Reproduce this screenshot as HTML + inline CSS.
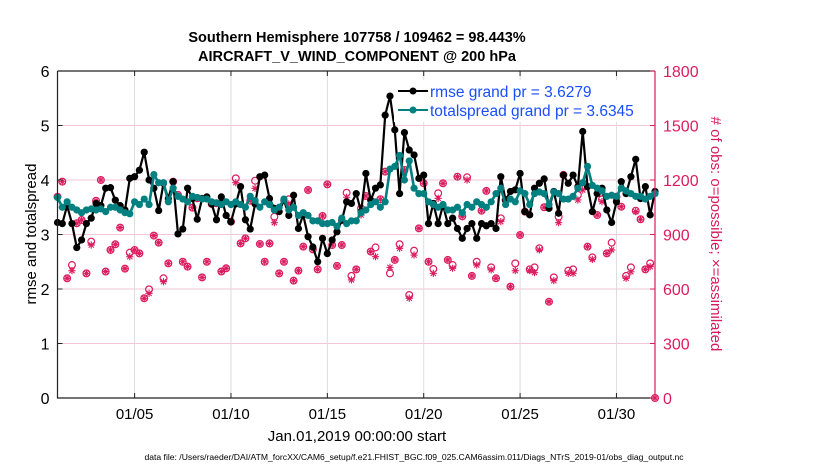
<!DOCTYPE html>
<html><head><meta charset="utf-8"><style>
body{margin:0;background:#fff;}
svg text{font-family:"Liberation Sans",Arial,sans-serif;}
</style></head><body>
<svg id="chart" width="830" height="470" xmlns="http://www.w3.org/2000/svg">
<rect x="0" y="0" width="830" height="470" fill="#fff"/>
<g id="grid"></g>
<g id="marks"></g>
<g id="axes"></g>
<text x="357" y="42" text-anchor="middle" font-size="14.5" font-weight="bold">Southern Hemisphere 107758 / 109462 = 98.443%</text>
<text x="357" y="61" text-anchor="middle" font-size="14.5" font-weight="bold">AIRCRAFT_V_WIND_COMPONENT @ 200 hPa</text>
<text transform="translate(36,234) rotate(-90)" text-anchor="middle" font-size="15">rmse and totalspread</text>
<text transform="translate(711,234) rotate(90)" text-anchor="middle" font-size="15" fill="#d81b5c"># of obs: o=possible; ×=assimilated</text>
<text x="357" y="441" text-anchor="middle" font-size="15">Jan.01,2019 00:00:00 start</text>
<text x="414" y="460" text-anchor="middle" font-size="8.6">data file: /Users/raeder/DAI/ATM_forcXX/CAM6_setup/f.e21.FHIST_BGC.f09_025.CAM6assim.011/Diags_NTrS_2019-01/obs_diag_output.nc</text>
<g>
<rect x="394" y="80" width="256" height="42" fill="#fff"/>
<line x1="398" y1="91" x2="428" y2="91" stroke="#000" stroke-width="2"/>
<circle cx="413" cy="91" r="3.5" fill="#000"/>
<text x="430" y="97" font-size="15.5" fill="#1a4dff">rmse grand pr = 3.6279</text>
<line x1="398" y1="110" x2="428" y2="110" stroke="#008080" stroke-width="2"/>
<circle cx="413" cy="110" r="3.5" fill="#008080"/>
<text x="430" y="116" font-size="15.5" fill="#1a4dff">totalspread grand pr = 3.6345</text>
</g>
</svg>
<script>
const rmse = [3.22,3.20,3.53,3.20,2.76,2.90,3.20,3.30,3.57,3.53,3.85,3.86,3.63,3.53,3.45,4.03,4.06,4.18,4.51,4.0,3.85,3.44,3.94,3.66,3.97,3.01,3.10,3.85,3.66,3.28,3.66,3.69,3.56,3.27,3.69,3.35,3.23,3.56,3.88,3.27,3.10,3.56,4.06,
4.09,3.66,3.48,3.42,3.63,3.35,3.72,3.11,3.36,2.96,2.77,2.50,2.93,2.65,2.90,3.05,3.26,3.60,3.57,3.75,3.42,4.12,3.63,3.85,3.91,5.19,5.54,4.92,3.75,4.87,4.55,4.46,4.03,4.09,3.20,3.57,3.20,3.54,3.20,3.30,3.11,2.93,
3.11,3.20,2.93,3.2,3.16,3.2,3.11,4.06,3.63,3.79,3.82,4.12,3.42,3.36,3.85,3.94,4.02,3.48,3.79,3.39,4.09,3.94,4.09,3.88,4.89,3.88,3.42,3.75,3.85,3.45,3.22,3.60,3.97,3.75,4.06,4.38,3.66,3.88,3.36,3.79];
const spread = [3.68,3.5,3.6,3.5,3.45,3.4,3.45,3.47,3.45,3.47,3.42,3.5,3.5,3.45,3.4,3.38,3.6,3.55,3.65,3.55,4.1,3.95,3.95,3.6,3.85,3.7,3.65,3.6,3.7,3.68,3.65,3.65,3.6,3.58,3.55,3.6,3.55,3.6,3.55,3.5,3.7,3.62,3.5,
3.6,3.55,3.45,3.5,3.65,3.45,3.5,3.35,3.4,3.35,3.25,3.25,3.2,3.2,3.22,3.15,3.3,3.2,3.25,3.25,3.4,3.45,3.55,3.6,3.5,3.6,4.2,4.25,4.45,4.0,4.35,3.85,3.75,3.75,3.6,3.55,3.5,3.55,3.45,3.45,3.5,3.4,
3.55,3.5,3.6,3.55,3.5,3.6,3.75,3.85,3.55,3.65,3.6,3.8,3.75,3.55,3.75,3.78,3.75,3.55,3.78,3.75,3.65,3.65,3.7,3.85,3.95,4.25,3.9,3.85,3.8,3.7,3.72,3.7,3.85,3.8,3.75,3.7,3.7,3.65,3.7,3.75];
const nPossible = [1108,1191,659,732,962,980,686,861,1086,1200,696,815,846,938,712,800,815,796,549,598,894,855,659,741,1191,1118,750,723,1048,1099,664,750,1068,1072,696,714,971,1209,851,879,1086,1196,848,750,
851,998,686,750,1094,646,701,833,1145,818,708,1002,1176,842,727,842,1130,672,708,1044,1112,806,829,1094,1246,686,760,846,1255,567,811,934,1182,750,710,1127,1182,760,732,1218,1000,
1215,672,750,1031,1140,719,659,989,1090,613,741,897,1026,708,719,824,1050,530,664,998,1228,701,708,1118,1163,833,774,1007,1094,796,855,1108,1053,672,719,1031,984,708,741,0];
const nAssim = [1108,1191,659,701,962,980,686,842,1086,1200,696,815,846,938,712,778,815,796,549,576,894,855,640,741,1191,1118,750,723,1048,1099,664,750,1068,1072,696,714,971,1185,851,879,1086,1154,848,750,
851,965,686,750,1068,646,701,833,1145,818,708,1002,1176,842,727,842,1105,650,708,1007,1112,806,778,1094,1246,719,760,824,1255,549,787,934,1182,750,686,1099,1182,760,714,1218,1000,
1200,672,732,1031,1140,705,659,971,1081,613,701,897,1026,701,690,815,1050,530,646,965,1228,686,686,1090,1145,833,763,1007,1081,796,815,1090,1053,659,695,1026,984,708,723,0];
const leftTicks = [0,1,2,3,4,5,6];
const rightTicks = [0,300,600,900,1200,1500,1800];
const dateTicks = [4,9,14,19,24,29];
const dateLabels = ["01/05","01/10","01/15","01/20","01/25","01/30"];

const NS="http://www.w3.org/2000/svg";
const L=57.5,R=655,T=71,B=398;
const xS=d=>L+(d/31)*(R-L);
const yS=v=>B-(v/6)*(B-T);
const yR=c=>B-(c/1800)*(B-T);
function mk(tag,attrs,parent){const e=document.createElementNS(NS,tag);for(const k in attrs)e.setAttribute(k,attrs[k]);parent.appendChild(e);return e;}
const grid=document.getElementById('grid'),marks=document.getElementById('marks'),axes=document.getElementById('axes');
leftTicks.forEach(v=>{if(v>0&&v<6){const g=mk('line',{x1:L,x2:R,y1:yS(v),y2:yS(v),stroke:'#f2c6d6','stroke-width':1},grid);

}});
dateTicks.forEach((d,i)=>{const g=mk('line',{x1:xS(d),x2:xS(d),y1:T,y2:B,stroke:'#dcdcdc','stroke-width':1},grid);


const t=mk('text',{x:xS(d),y:B+21,'text-anchor':'middle','font-size':15},axes);t.textContent=dateLabels[i];

});
const pink='#dc1c5e';
nPossible.forEach((c,i)=>{const x=xS(i*0.25),y=yR(c);
const o=mk('circle',{cx:x,cy:y,r:3.4,fill:'none',stroke:pink,'stroke-width':1.2},marks);

});
nAssim.forEach((c,i)=>{const x=xS(i*0.25),y=yR(c);
const g=mk('path',{d:`M${x-3.6},${y}H${x+3.6}M${x},${y-3.6}V${y+3.6}M${x-2.6},${y-2.6}L${x+2.6},${y+2.6}M${x-2.6},${y+2.6}L${x+2.6},${y-2.6}`,stroke:pink,'stroke-width':1.1},marks);

});
function series(arr,color,name,w){
const pts=arr.map((v,i)=>xS(i*0.25).toFixed(1)+','+yS(v).toFixed(1)).join(' ');
const pl=mk('polyline',{points:pts,fill:'none',stroke:color,'stroke-width':w,'stroke-linejoin':'round'},marks);


arr.forEach((v,i)=>{const c=mk('circle',{cx:xS(i*0.25),cy:yS(v),r:3.6,fill:color},marks);

});}
series(rmse,'#000','rmse',2.2);
series(spread,'#008080','totalspread',2.6);
const f=mk('path',{d:`M${L},${T}H${R}M${L},${T}V${B}H${R}`,stroke:'#222','stroke-width':1.2,fill:'none'},axes);


const ra=mk('line',{x1:R,x2:R,y1:T,y2:B,stroke:pink,'stroke-width':1.2},axes);


leftTicks.forEach(v=>{mk('line',{x1:L,x2:L+5,y1:yS(v),y2:yS(v),stroke:'#222'},axes);
const t=mk('text',{x:L-8,y:yS(v)+6,'text-anchor':'end','font-size':16},axes);t.textContent=v;

});
rightTicks.forEach(v=>{mk('line',{x1:R-5,x2:R,y1:yR(v),y2:yR(v),stroke:pink},axes);
const t=mk('text',{x:R+8,y:yR(v)+6,'font-size':16,fill:pink},axes);t.textContent=v;

});
dateTicks.forEach(d=>{mk('line',{x1:xS(d),x2:xS(d),y1:B,y2:B-5,stroke:'#222'},axes);mk('line',{x1:xS(d),x2:xS(d),y1:T,y2:T+5,stroke:'#222'},axes);});
</script>
</body></html>
